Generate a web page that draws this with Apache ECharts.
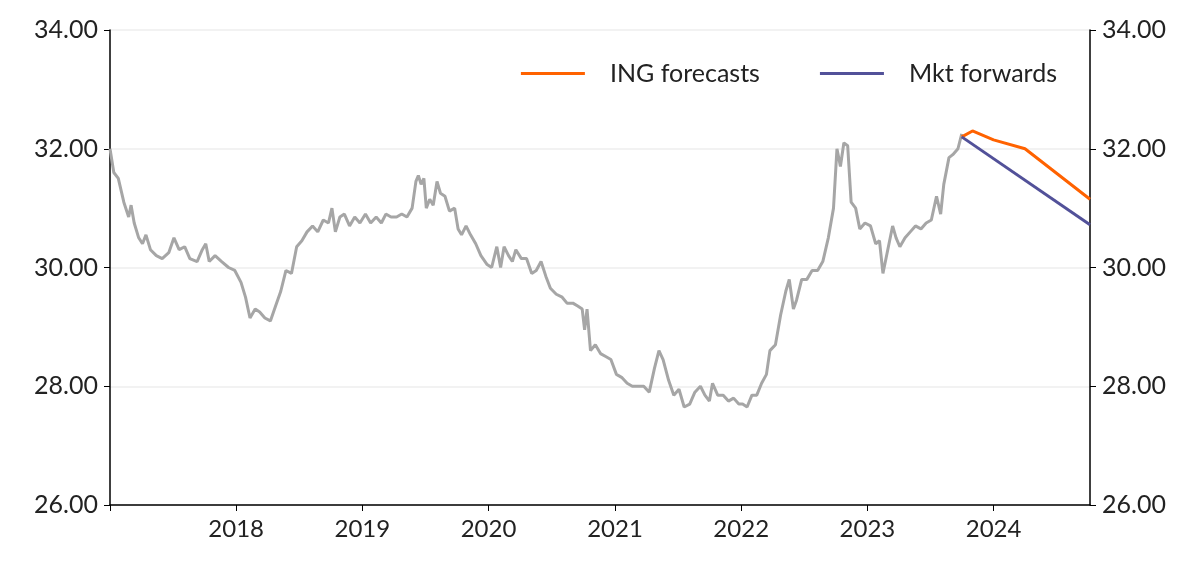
<!DOCTYPE html>
<html>
<head>
<meta charset="utf-8">
<script src="https://cdn.jsdelivr.net/npm/echarts@6/dist/echarts.min.js"></script>
<style>html,body{margin:0;padding:0;background:#fff}#chart{width:1200px;height:572px}</style>
</head>
<body>
<div id="chart"></div>
<script>
var spotData = [
  ['2017-01-01',32.0],['2017-01-12',31.6],['2017-01-25',31.5],['2017-02-10',31.1],['2017-02-24',30.85],['2017-03-03',31.05],['2017-03-12',30.75],
  ['2017-03-25',30.5],['2017-04-05',30.4],['2017-04-15',30.55],['2017-04-28',30.3],['2017-05-15',30.2],['2017-06-01',30.15],['2017-06-20',30.25],
  ['2017-07-05',30.5],['2017-07-20',30.3],['2017-08-05',30.35],['2017-08-20',30.15],['2017-09-10',30.1],['2017-09-25',30.3],['2017-10-05',30.4],
  ['2017-10-15',30.1],['2017-11-01',30.2],['2017-11-20',30.1],['2017-12-10',30.0],['2017-12-28',29.95],['2018-01-15',29.75],['2018-01-28',29.5],
  ['2018-02-10',29.15],['2018-02-25',29.3],['2018-03-10',29.25],['2018-03-25',29.15],['2018-04-10',29.1],['2018-04-25',29.35],['2018-05-10',29.6],
  ['2018-05-25',29.95],['2018-06-10',29.9],['2018-06-25',30.35],['2018-07-10',30.45],['2018-07-25',30.6],['2018-08-10',30.7],['2018-08-25',30.6],
  ['2018-09-10',30.8],['2018-09-25',30.75],['2018-10-05',31.0],['2018-10-15',30.6],['2018-10-28',30.85],['2018-11-10',30.9],['2018-11-25',30.7],
  ['2018-12-10',30.85],['2018-12-25',30.75],['2019-01-10',30.9],['2019-01-25',30.75],['2019-02-10',30.85],['2019-02-25',30.75],['2019-03-10',30.9],
  ['2019-03-25',30.85],['2019-04-10',30.85],['2019-04-25',30.9],['2019-05-10',30.85],['2019-05-25',31.0],['2019-06-05',31.45],['2019-06-12',31.55],
  ['2019-06-20',31.4],['2019-06-28',31.5],['2019-07-05',31.0],['2019-07-15',31.15],['2019-07-25',31.05],['2019-08-05',31.45],['2019-08-15',31.25],
  ['2019-08-28',31.2],['2019-09-10',30.95],['2019-09-25',31.0],['2019-10-05',30.65],['2019-10-15',30.55],['2019-10-28',30.7],['2019-11-10',30.55],
  ['2019-11-25',30.4],['2019-12-10',30.2],['2019-12-28',30.05],['2020-01-10',30.0],['2020-01-25',30.35],['2020-02-05',30.0],['2020-02-15',30.35],
  ['2020-02-28',30.2],['2020-03-10',30.1],['2020-03-20',30.3],['2020-04-05',30.15],['2020-04-20',30.15],['2020-05-05',29.9],['2020-05-18',29.95],
  ['2020-06-01',30.1],['2020-06-15',29.85],['2020-06-28',29.65],['2020-07-15',29.55],['2020-08-01',29.5],['2020-08-15',29.4],['2020-09-01',29.4],
  ['2020-09-15',29.35],['2020-09-28',29.3],['2020-10-05',28.95],['2020-10-12',29.3],['2020-10-22',28.6],['2020-11-05',28.7],['2020-11-20',28.55],
  ['2020-12-05',28.5],['2020-12-20',28.45],['2021-01-05',28.2],['2021-01-20',28.15],['2021-02-05',28.05],['2021-02-20',28.0],['2021-03-10',28.0],
  ['2021-03-25',28.0],['2021-04-10',27.9],['2021-04-25',28.3],['2021-05-08',28.6],['2021-05-20',28.45],['2021-06-05',28.1],['2021-06-20',27.85],
  ['2021-07-05',27.95],['2021-07-20',27.65],['2021-08-05',27.7],['2021-08-20',27.9],['2021-09-05',28.0],['2021-09-18',27.85],['2021-10-01',27.75],
  ['2021-10-10',28.05],['2021-10-25',27.85],['2021-11-10',27.85],['2021-11-25',27.75],['2021-12-10',27.8],['2021-12-25',27.7],['2022-01-05',27.7],
  ['2022-01-18',27.65],['2022-02-01',27.85],['2022-02-15',27.85],['2022-03-01',28.05],['2022-03-15',28.2],['2022-03-25',28.6],['2022-04-10',28.7],
  ['2022-04-25',29.2],['2022-05-10',29.6],['2022-05-20',29.8],['2022-06-01',29.3],['2022-06-10',29.45],['2022-06-25',29.8],['2022-07-10',29.8],
  ['2022-07-25',29.95],['2022-08-10',29.95],['2022-08-25',30.1],['2022-09-10',30.5],['2022-09-25',31.0],['2022-10-05',32.0],['2022-10-15',31.7],
  ['2022-10-25',32.1],['2022-11-05',32.05],['2022-11-15',31.1],['2022-11-28',31.0],['2022-12-10',30.65],['2022-12-25',30.75],['2023-01-10',30.7],
  ['2023-01-25',30.4],['2023-02-05',30.45],['2023-02-15',29.9],['2023-03-01',30.3],['2023-03-15',30.7],['2023-03-25',30.5],['2023-04-05',30.35],
  ['2023-04-20',30.5],['2023-05-05',30.6],['2023-05-20',30.7],['2023-06-05',30.65],['2023-06-20',30.75],['2023-07-05',30.8],['2023-07-20',31.2],
  ['2023-08-01',30.9],['2023-08-10',31.4],['2023-08-25',31.85],['2023-09-05',31.9],['2023-09-20',32.0],['2023-10-01',32.25]
];
var ingForecasts = [['2023-10-01',32.2],['2023-11-01',32.3],['2024-01-01',32.15],['2024-04-01',32.0],['2024-10-06',31.15]];
var mktForwards = [['2023-10-01',32.2],['2024-10-06',30.72]];

var fmt = function (v) { return v.toFixed(2); };
var yAxisBase = {
    type: 'value', min: 26, max: 34, interval: 2,
    axisLine: {show: true, lineStyle: {color: '#000', width: 1.5}},
    axisTick: {show: true, length: 6, lineStyle: {color: '#000'}},
    axisLabel: {color: '#222', fontSize: 25, margin: 12, formatter: fmt},
    splitLine: {show: false}
};
var option = {
    animation: false,
    textStyle: {fontFamily: 'Lato'},
    grid: {left: 110, right: 110, top: 30, bottom: 67},
    legend: {
        right: 138, top: 56, itemWidth: 64, itemHeight: 3, itemGap: 60,
        icon: 'rect',
        textStyle: {fontSize: 25, color: '#222', padding: [0, 0, 0, 20]},
        data: ['ING forecasts', 'Mkt forwards']
    },
    xAxis: {
        type: 'time', min: '2017-01-01', max: '2024-10-06',
        interval: 365.25 * 24 * 3600 * 1000,
        minInterval: 365 * 24 * 3600 * 1000,
        axisLine: {lineStyle: {color: '#000', width: 1.5}},
        axisTick: {show: true, length: 6, lineStyle: {color: '#000'}},
        axisLabel: {
            color: '#222', fontSize: 24, margin: 12,
            formatter: function (v) { var y = new Date(v).getFullYear(); return y === 2017 ? '' : String(y); }
        },
        splitLine: {show: false}
    },
    yAxis: [
        Object.assign({}, yAxisBase, {position: 'left', splitLine: {show: true, lineStyle: {color: '#eee', width: 1.5}}}),
        Object.assign({}, yAxisBase, {position: 'right'})
    ],
    series: [
        {name: 'spot', type: 'line', data: spotData, showSymbol: false, lineStyle: {color: '#a6a6a6', width: 3}, itemStyle: {color: '#a6a6a6'}},
        {name: 'ING forecasts', type: 'line', data: ingForecasts, showSymbol: false, lineStyle: {color: '#ff6200', width: 3}, itemStyle: {color: '#ff6200'}},
        {name: 'Mkt forwards', type: 'line', data: mktForwards, showSymbol: false, lineStyle: {color: '#525199', width: 3}, itemStyle: {color: '#525199'}}
    ]
};
var myChart = echarts.init(document.getElementById('chart'));
myChart.setOption(option);
</script>
</body>
</html>
